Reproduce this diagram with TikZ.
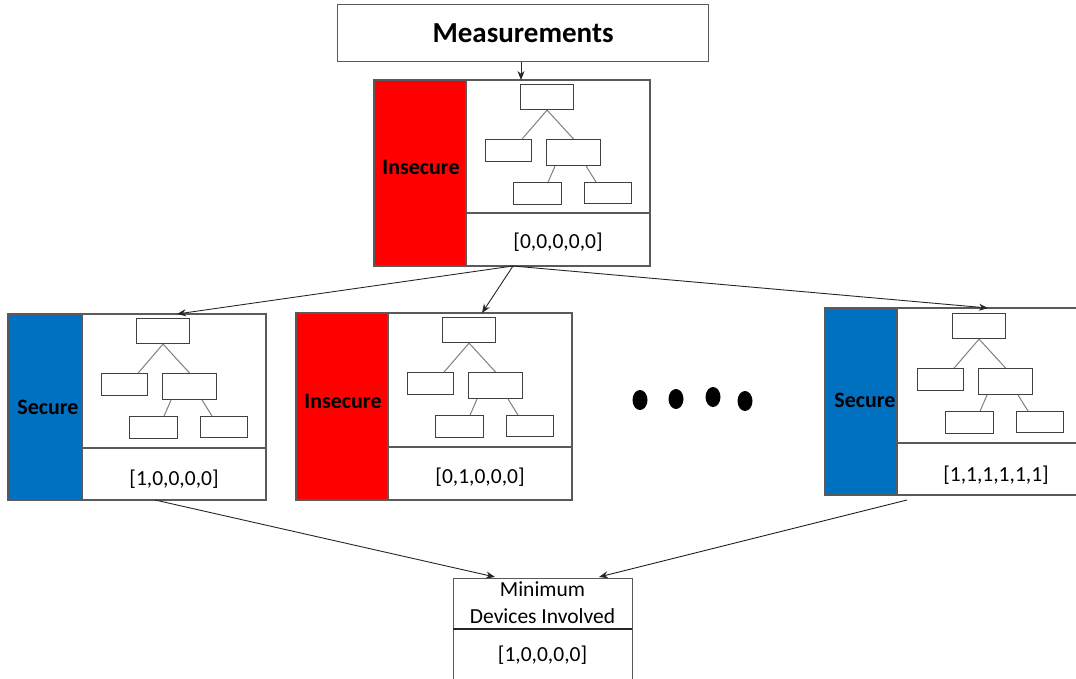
\documentclass[tikz,border=0pt]{standalone}
\usepackage{fontspec}
\setmainfont{Carlito}
\usetikzlibrary{arrows.meta}
\definecolor{secblue}{HTML}{0070C0}
\definecolor{insred}{HTML}{FF0000}
\definecolor{outl}{HTML}{5A5A5A}
\tikzset{
  frame/.style={draw=outl,line width=1.2pt,fill=white},
  strip/.style={draw=outl,line width=1.2pt},
  tbox/.style={draw=black!75,line width=1.1pt,fill=white,inner sep=0pt,anchor=north west},
  tline/.style={draw=gray,line width=1pt},
  conn/.style={draw=black!85,line width=0.9pt,-{Stealth[length=9pt,width=7pt]}},
  lab/.style={font=\fontsize{21.5}{26}\selectfont,inner sep=0pt},
  stat/.style={font=\bfseries\fontsize{22}{26}\selectfont,inner sep=0pt},
  tree/.pic={
    \node[tbox,minimum width=53pt,minimum height=25pt] (-a) at (0,0) {};
    \node[tbox,minimum width=46pt,minimum height=22pt] (-b) at (-35,55) {};
    \node[tbox,minimum width=54pt,minimum height=26pt] (-c) at (26,55) {};
    \node[tbox,minimum width=48pt,minimum height=22pt] (-d) at (-7,98) {};
    \node[tbox,minimum width=47pt,minimum height=21pt] (-e) at (64,98) {};
    \draw[tline] (-a.south) -- ([xshift=-10pt]-b.north east);
    \draw[tline] (-a.south) -- (-c.north);
    \draw[tline] ([xshift=9pt]-c.south west) -- ([xshift=-14pt]-d.north east);
    \draw[tline] ([xshift=-15pt]-c.south east) -- ([xshift=12pt]-e.north west);
  }
}
\begin{document}
\begin{tikzpicture}[x=1pt,y=-1pt]
\useasboundingbox (0,0) rectangle (1076,678);
% Measurements
\node[frame,minimum width=371pt,minimum height=57pt,anchor=north west,inner sep=0pt,
      font=\bfseries\fontsize{29}{32}\selectfont] (M) at (337,4) {Measurements};
% Top module
\node[frame,minimum width=276pt,minimum height=186pt,anchor=north west] (T) at (374,80) {};
\fill[insred] (374,80) rectangle (466,266);
\draw[strip] (374,80) rectangle (466,266);
\draw[strip] (466,213) -- (650,213);
\draw[strip] (374,80) rectangle (650,266);
\node[stat] (Ts) at (421,167) {Insecure};
\node[lab] (Tl) at (558,242) {[0,0,0,0,0]};
\pic (Tt) at (520,84) {tree};
% Left module
\node[frame,minimum width=258pt,minimum height=186pt,anchor=north west] (L) at (8,314) {};
\fill[secblue] (8,314) rectangle (82,500);
\draw[strip] (8,314) rectangle (82,500);
\draw[strip] (82,448) -- (266,448);
\draw[strip] (8,314) rectangle (266,500);
\node[stat] (Ls) at (48,407) {Secure};
\node[lab] (Ll) at (174,479) {[1,0,0,0,0]};
\pic (Lt) at (136,318) {tree};
% Middle module
\node[frame,minimum width=276pt,minimum height=187pt,anchor=north west] (C) at (296,313) {};
\fill[insred] (296,313) rectangle (388,500);
\draw[strip] (296,313) rectangle (388,500);
\draw[strip] (388,447) -- (572,447);
\draw[strip] (296,313) rectangle (572,500);
\node[stat] (Cs) at (343,401) {Insecure};
\node[lab] (Cl) at (480,477) {[0,1,0,0,0]};
\pic (Ct) at (442,317) {tree};
% Right module
\node[frame,minimum width=255pt,minimum height=187pt,anchor=north west] (R) at (825,308) {};
\fill[secblue] (825,308) rectangle (897,495);
\draw[strip] (825,308) rectangle (897,495);
\draw[strip] (897,443) -- (1080,443);
\draw[strip] (825,308) rectangle (1080,495);
\node[stat] (Rs) at (865,400) {Secure};
\node[lab] (Rl) at (996,475) {[1,1,1,1,1,1]};
\pic (Rt) at (952,313) {tree};
% Dots
\fill (640,400) ellipse [x radius=7.5pt, y radius=10pt];
\fill (676,399) ellipse [x radius=7.5pt, y radius=10pt];
\fill (713,397) ellipse [x radius=7.5pt, y radius=10pt];
\fill (745,401) ellipse [x radius=7.5pt, y radius=10pt];
% Bottom box
\node[frame,minimum width=179pt,minimum height=112pt,anchor=north west] (B) at (453,578) {};
\draw[line width=1.6pt,draw=black!85] (453,629) -- (632,629);
\node[lab,align=center,font=\fontsize{21.5}{27}\selectfont] (Bt) at (542.5,603) {Minimum\\Devices Involved};
\node[lab] (Bl) at (542.5,655) {[1,0,0,0,0]};
% connector coordinates
\coordinate (Tb) at (513,266);
\coordinate (Lin) at (177,314);
\coordinate (Cin) at (482,313);
\coordinate (Rin) at (988,308);
\coordinate (Lout) at (155,500);
\coordinate (Rout) at (907,500);
\coordinate (Bin1) at (495,577);
\coordinate (Bin2) at (599,577);
\draw[conn] (M.south -| 521,0) -- (T.north -| 521,0);
\draw[conn] (Tb) -- (Lin);
\draw[conn] (Tb) -- (Cin);
\draw[conn] (Tb) -- (Rin);
\draw[conn] (Lout) -- (Bin1);
\draw[conn] (Rout) -- (Bin2);
\end{tikzpicture}
\end{document}
